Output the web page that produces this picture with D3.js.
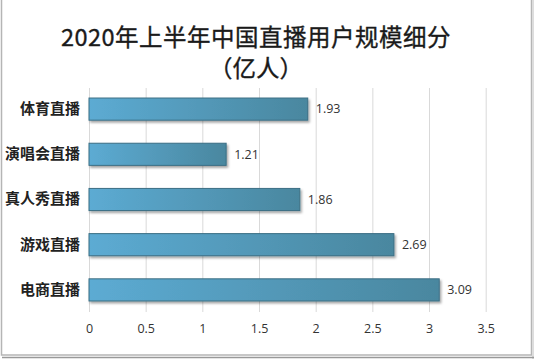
<!DOCTYPE html>
<html><head><meta charset="utf-8">
<script src="https://cdn.jsdelivr.net/npm/d3@7"></script>
<style>body{margin:0;background:#fff}svg{display:block}</style>
</head><body>
<script>
const titleLines = ["2020年上半年中国直播用户规模细分", "（亿人）"];
const categories = ["体育直播", "演唱会直播", "真人秀直播", "游戏直播", "电商直播"];
const values = [1.93, 1.21, 1.86, 2.69, 3.09];
const xTicks = [0, 0.5, 1, 1.5, 2, 2.5, 3, 3.5];

const W = 534, H = 361;
const svg = d3.select("body").append("svg").attr("width", W).attr("height", H);
const defs = svg.append("defs");
const grad = defs.append("linearGradient").attr("id", "barGrad").attr("x1", "0").attr("x2", "1").attr("y1", "0").attr("y2", "0");
grad.append("stop").attr("offset", "0%").attr("stop-color", "#5cabd3");
grad.append("stop").attr("offset", "100%").attr("stop-color", "#4a879f");
const f = defs.append("filter").attr("id", "sh").attr("x", "-5%").attr("y", "-20%").attr("width", "115%").attr("height", "160%");
f.append("feDropShadow").attr("dx", 1.5).attr("dy", 2).attr("stdDeviation", 1.2).attr("flood-color", "#000").attr("flood-opacity", 0.35);

// frame
svg.append("rect").attr("x", 1.5).attr("y", -2).attr("width", 530).attr("height", 357)
  .attr("fill", "#fff").attr("stroke", "#b5b5b5").attr("stroke-width", 1.5);
svg.append("line").attr("x1", 533).attr("x2", 533).attr("y1", 0).attr("y2", 359).attr("stroke", "#ddd").attr("stroke-width", 2);
svg.append("line").attr("x1", 2).attr("x2", 534).attr("y1", 357.5).attr("y2", 357.5).attr("stroke", "#999").attr("stroke-width", 1.5);

// title
const title = svg.append("text").attr("text-anchor", "middle")
  .attr("font-family", "'Noto Sans CJK SC', sans-serif").attr("font-size", 23.5).attr("fill", "#1a1a1a")
  .attr("stroke", "#1a1a1a").attr("stroke-width", 0.35);
title.append("tspan").attr("x", 256).attr("y", 46).attr("letter-spacing", 0.5).text(titleLines[0]);
title.append("tspan").attr("x", 256).attr("y", 77).text(titleLines[1]);

const x = d3.scaleLinear().domain([0, 3.5]).range([89, 485.7]);
const y = d3.scaleBand().domain(categories).range([86.5, 312.5]).paddingInner(0.51).paddingOuter(0.255);

// gridlines
const gx = svg.append("g").attr("transform", "translate(0,312)")
  .call(d3.axisBottom(x).tickValues(xTicks).tickSize(-224).tickFormat(d3.format("")).tickPadding(12));
gx.select(".domain").remove();
gx.selectAll(".tick line").attr("stroke", "#d9d9d9").attr("stroke-width", 1);
gx.selectAll(".tick text").attr("font-family", "'Open Sans', 'Noto Sans', sans-serif").attr("font-size", 12.5).attr("fill", "#333");

// y labels
const gy = svg.append("g").attr("transform", "translate(89,0)")
  .call(d3.axisLeft(y).tickSize(0).tickPadding(9));
gy.select(".domain").remove();
gy.selectAll(".tick text").attr("font-family", "'Noto Sans CJK SC', sans-serif").attr("font-size", 15)
  .attr("font-weight", "bold").attr("fill", "#222");

// bars
svg.append("g").selectAll("rect").data(categories).join("rect")
  .attr("x", x(0)).attr("y", d => y(d)).attr("height", y.bandwidth())
  .attr("width", (d, i) => x(values[i]) - x(0))
  .attr("fill", "url(#barGrad)").attr("stroke", "#3b6e84").attr("stroke-width", 1)
  .attr("filter", "url(#sh)");

// value labels
svg.append("g").selectAll("text").data(categories).join("text")
  .attr("x", (d, i) => x(values[i]) + 8).attr("y", d => y(d) + y.bandwidth() / 2)
  .attr("dy", "0.35em").attr("font-family", "'Open Sans', 'Noto Sans', sans-serif").attr("font-size", 12.5)
  .attr("fill", "#333").text((d, i) => values[i].toFixed(2));
</script>
</body></html>
